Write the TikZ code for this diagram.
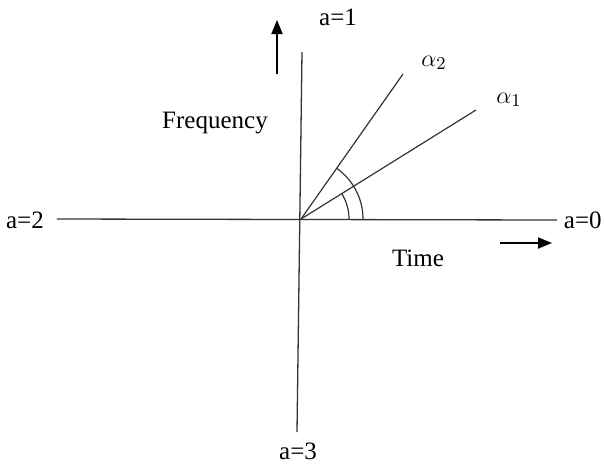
\documentclass[tikz,border=0pt]{standalone}
\usepackage{fontspec}
\setmainfont{Liberation Serif}
\usetikzlibrary{arrows.meta}
\tikzset{
  axisLine/.style={draw=black!80, line width=0.65pt},
  rayLine/.style={draw=black!80, line width=0.6pt},
  dirArrow/.style={-{Triangle[length=7pt,width=5.5pt]}, line width=0.9pt},
  axisLabel/.style={font=\fontsize{12.5}{14}\selectfont, inner sep=1pt}
}
\begin{document}
\begin{tikzpicture}[x=0.5pt,y=0.5pt]
  \useasboundingbox (-301,-244) rectangle (303,219);
  % axes
  \coordinate (O) at (0,0);
  \coordinate (left) at (-244,0);
  \coordinate (right) at (256,-1);
  \coordinate (top) at (1,167);
  \coordinate (bottom) at (-4,-213);
  \draw[axisLine] (left) -- (right);
  \draw[axisLine] (top) -- (bottom);
  % rays and angles
  \coordinate (rayTwo) at (102,145);
  \coordinate (rayOne) at (175,109);
  \draw[rayLine] (O) -- (rayTwo);
  \draw[rayLine] (O) -- (rayOne);
  \draw[rayLine] (48,0) arc[start angle=0, end angle=31.9, radius=48];
  \draw[rayLine] (62,0) arc[start angle=0, end angle=54.9, radius=62];
  % labels
  \node[axisLabel] (aOne) at (37,202) {a=1};
  \node[axisLabel] (aTwo) at (-276,-1) {a=2};
  \node[axisLabel, anchor=east] (aZero) at (303,-1) {a=0};
  \node[axisLabel] (aThree) at (-3,-232) {a=3};
  \node[axisLabel] (alphaTwo) at (133,156) {$\alpha_2$};
  \node[axisLabel] (alphaOne) at (208,119) {$\alpha_1$};
  \node[axisLabel] (freq) at (-86,96) {Frequency};
  \node[axisLabel] (time) at (117,-39) {Time};
  % direction arrows
  \coordinate (upFrom) at (-24,145);
  \coordinate (upTo) at (-24,199);
  \coordinate (rtFrom) at (199,-24);
  \coordinate (rtTo) at (251,-24);
  \draw[dirArrow] (upFrom) -- (upTo);
  \draw[dirArrow] (rtFrom) -- (rtTo);
\end{tikzpicture}
\end{document}
